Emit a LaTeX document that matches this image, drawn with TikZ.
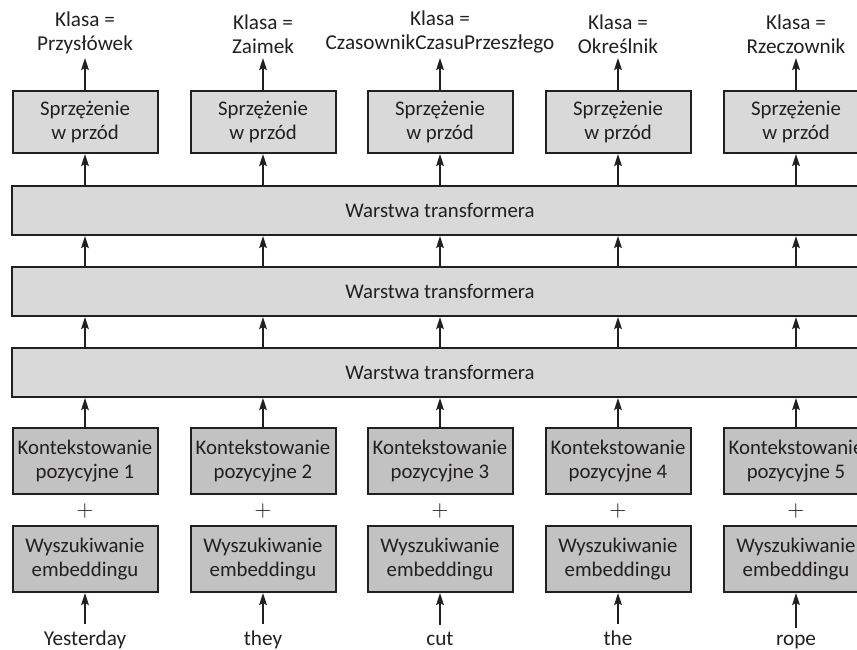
\documentclass[tikz,border=0pt]{standalone}
\usepackage{fontspec}
\setmainfont{Carlito}
\usetikzlibrary{arrows.meta,positioning}
\definecolor{tfink}{HTML}{231F20}
\definecolor{tflight}{HTML}{D9D9D9}
\definecolor{tfdark}{HTML}{C2C2C2}
\tikzset{
  bx/.style={draw=tfink, line width=1pt, align=center, text=tfink, font=\fontsize{10.4}{12}\selectfont, inner sep=0pt},
  ff/.style={bx, fill=tflight, minimum width=72.5pt, minimum height=31pt},
  posbox/.style={bx, fill=tfdark, minimum width=72.5pt, minimum height=33pt},
  emb/.style={posbox},
  layer/.style={bx, fill=tflight, minimum width=428pt, minimum height=24.5pt},
  lbl/.style={align=center, text=tfink, font=\fontsize{10.6}{12}\selectfont, inner sep=2pt},
  arr/.style={-{Stealth[length=6pt, width=3.8pt, inset=1pt]}, line width=1pt, color=tfink},
}
\begin{document}
\begin{tikzpicture}[x=0.5pt, y=-0.5pt]
  \clip (0,0) rectangle (857,649);
  % three shared layers
  \node[layer] (t3) at (440,372.5) {Warstwa transformera};
  \node[layer] (t2) at (440,291.5) {Warstwa transformera};
  \node[layer] (t1) at (440,210.5) {Warstwa transformera};
  % one column per token
  \foreach \i/\x/\word/\cls in {1/85/Yesterday/Przysłówek, 2/263/they/Zaimek, 3/440/cut/CzasownikCzasuPrzeszłego, 4/618/the/Określnik, 5/796/rope/Rzeczownik}{
    \node[ff] (ff\i) at (\x,122) {Sprzężenie\\w przód};
    \node[lbl, anchor=south] (cls\i) at (\x,58) {Klasa =\\\cls};
    \node[posbox] (pe\i) at (\x,461) {Kontekstowanie\\pozycyjne \i};
    \node[lbl] (plus\i) at (\x,511) {$+$};
    \node[emb] (em\i) at (\x,559) {Wyszukiwanie\\embeddingu};
    \node[lbl, anchor=base, inner sep=3pt] (w\i) at (\x,645) {\word};
    \draw[arr] (w\i) -- (em\i);
    \draw[arr] (pe\i) -- (pe\i |- t3.south);
    \draw[arr] (ff\i |- t3.north) -- (ff\i |- t2.south);
    \draw[arr] (ff\i |- t2.north) -- (ff\i |- t1.south);
    \draw[arr] (ff\i |- t1.north) -- (ff\i);
    \draw[arr] (ff\i) -- (cls\i);
  }
\end{tikzpicture}
\end{document}
